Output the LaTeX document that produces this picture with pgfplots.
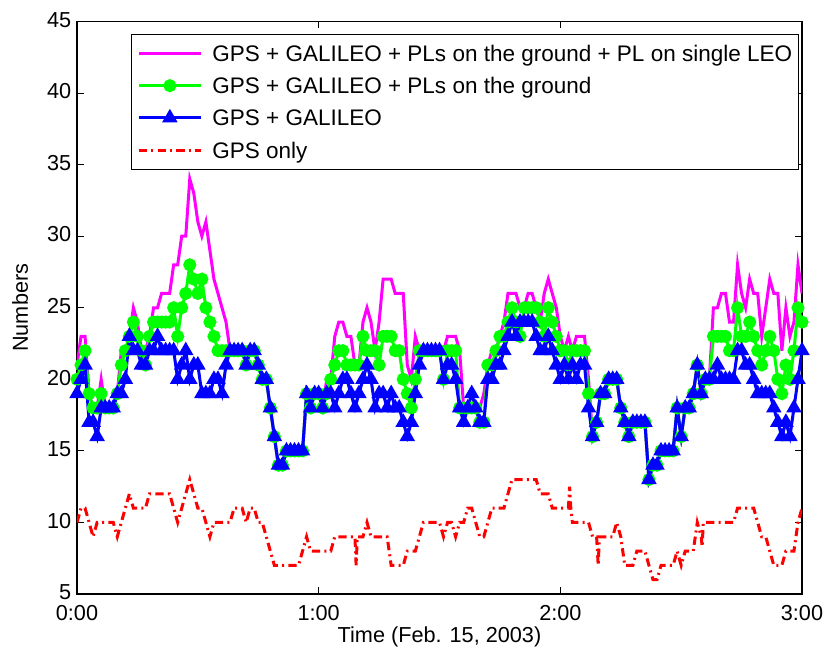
\documentclass[border=0pt]{standalone}
\usepackage{pgfplots}
\pgfplotsset{compat=1.18}
\usepackage{fontspec}
\setmainfont{Liberation Sans}
\definecolor{mmag}{rgb}{1,0,1}
\definecolor{mgreen}{rgb}{0,1,0}
\definecolor{mblue}{rgb}{0,0,1}
\definecolor{mred}{rgb}{1,0,0}
\begin{document}
\begin{tikzpicture}
\useasboundingbox (-46.2pt,-34.8pt) rectangle (451.2pt,356.4pt);
\begin{axis}[
  width=435pt, height=343.5pt, scale only axis,
  xmin=0, xmax=180, ymin=5, ymax=45,
  xtick={0,60,120,180}, xticklabels={0:00,1:00,2:00,3:00},
  xticklabel style={yshift=-3pt},
  yticklabel style={yshift=1pt},
  ytick={5,10,...,45},
  tick align=inside, major tick length=4.2pt,
  axis line style={line width=0.8pt},
  tick style={line width=0.6pt, black},
  font=\fontsize{13}{15.6}\selectfont,
  /pgf/number format/assume math mode=true,
  xlabel={Time (Feb. 15, 2003)}, ylabel={Numbers},
  xlabel style={at={(axis description cs:0.5,-0.075)}, anchor=center},
  ylabel style={at={(axis description cs:-0.0786,0.5)}, anchor=center},
  legend cell align=left,
  legend style={draw=black, line width=0.5pt, fill=white,
    at={(axis description cs:0.995,0.979)}, anchor=north east,
    font=\fontsize{13.5}{16}\selectfont,
    inner xsep=3.5pt, inner ysep=5.6pt, row sep=7.0pt,
    nodes={inner sep=0pt, text height=11pt, text depth=1.3pt},
    /tikz/every odd column/.append style={column sep=6pt}},
  legend image code/.code={\draw[mark repeat=2,mark phase=2,#1] plot coordinates {(0pt,0pt)(18.6pt,0pt)(37.2pt,0pt)};},
]
\addplot[color=mmag, line width=1.8pt] coordinates {
(0,21)(1,23)(2,23)(3,19)(4,18)(5,18)(6,20)(7,18)(8,18)(9,18)(10,19)(11,22)(12,22)(13,23)(14,25)(15,24)(16,22)(17,22)(18,23)(19,25)(20,25)(21,26)(22,26)(23,26)(24,28)(25,28)(26,30)(27,30)(28,34)(29,33)(30,31)(31,30)(32,31)(33,29)(34,27)(35,26)(36,25)(37,24)(38,22)(39,22)(40,22)(41,22)(42,21)(43,22)(44,22)(45,21)(46,20)(47,20)(48,18)(49,16)(50,14)(51,14)(52,15)(53,15)(54,15)(55,15)(56,15)(57,19)(58,18)(59,19)(60,19)(61,18)(62,20)(63,20)(64,23)(65,24)(66,24)(67,23)(68,23)(69,21)(70,21)(71,24)(72,25)(73,24)(74,22)(75,24)(76,27)(77,27)(78,27)(79,26)(80,26)(81,26)(82,21)(83,20)(84,23)(85,22)(86,22)(87,22)(88,22)(89,22)(90,22)(91,22)(92,23)(93,23)(94,23)(95,22)(96,18)(97,18)(98,18)(99,18)(100,18)(101,19)(102,21)(103,22)(104,22)(105,23)(106,24)(107,26)(108,26)(109,26)(110,25)(111,25)(112,26)(113,26)(114,25)(115,24)(116,26)(117,27)(118,26)(119,25)(120,23)(121,22)(122,23)(123,22)(124,23)(125,23)(126,23)(127,20)(128,16)(129,17)(130,19)(131,19)(132,20)(133,20)(134,20)(135,18)(136,17)(137,16)(138,17)(139,17)(140,17)(141,17)(142,13)(143,14)(144,14)(145,15)(146,15)(147,15)(148,15)(149,18)(150,16)(151,18)(152,18)(153,19)(154,21)(155,19)(156,20)(157,20)(158,25)(159,25)(160,26)(161,26)(162,24)(163,24)(164,28)(165,26)(166,25)(167,27)(168,26)(169,26)(170,23)(171,25)(172,27)(173,26)(174,26)(175,22)(176,25)(177,23)(178,24)(179,28)(180,26)};
\addlegendentry{GPS + GALILEO + PLs on the ground + PL on single LEO}
\addplot[color=mgreen, line width=1.8pt, mark=*, mark size=3pt, mark options={fill=mgreen, draw=mgreen}] coordinates {
(0,20)(1,21)(2,22)(3,19)(4,18)(5,18)(6,19)(7,18)(8,18)(9,18)(10,19)(11,21)(12,22)(13,23)(14,24)(15,23)(16,22)(17,21)(18,23)(19,24)(20,24)(21,24)(22,24)(23,24)(24,25)(25,23)(26,25)(27,26)(28,28)(29,27)(30,26)(31,27)(32,25)(33,24)(34,23)(35,22)(36,22)(37,22)(38,22)(39,22)(40,22)(41,22)(42,21)(43,22)(44,22)(45,21)(46,20)(47,20)(48,18)(49,16)(50,14)(51,14)(52,15)(53,15)(54,15)(55,15)(56,15)(57,19)(58,18)(59,19)(60,19)(61,18)(62,19)(63,20)(64,21)(65,22)(66,22)(67,21)(68,21)(69,21)(70,21)(71,23)(72,22)(73,22)(74,22)(75,21)(76,23)(77,23)(78,23)(79,22)(80,22)(81,20)(82,19)(83,18)(84,20)(85,22)(86,22)(87,22)(88,22)(89,22)(90,22)(91,20)(92,22)(93,22)(94,22)(95,18)(96,18)(97,18)(98,18)(99,18)(100,17)(101,17)(102,21)(103,21)(104,22)(105,23)(106,23)(107,24)(108,25)(109,24)(110,23)(111,25)(112,25)(113,25)(114,25)(115,24)(116,23)(117,25)(118,24)(119,23)(120,22)(121,22)(122,21)(123,22)(124,22)(125,22)(126,22)(127,19)(128,16)(129,17)(130,19)(131,19)(132,20)(133,20)(134,20)(135,18)(136,17)(137,16)(138,17)(139,17)(140,17)(141,17)(142,13)(143,14)(144,14)(145,15)(146,15)(147,15)(148,15)(149,18)(150,16)(151,18)(152,18)(153,19)(154,21)(155,19)(156,20)(157,20)(158,23)(159,23)(160,23)(161,23)(162,22)(163,22)(164,25)(165,23)(166,23)(167,24)(168,23)(169,22)(170,21)(171,22)(172,23)(173,22)(174,20)(175,19)(176,21)(177,20)(178,22)(179,25)(180,24)};
\addlegendentry{GPS + GALILEO + PLs on the ground}
\addplot[color=mblue, line width=1.8pt, mark=triangle*, mark size=3.6pt, mark options={fill=mblue, draw=mblue}] coordinates {
(0,19)(1,20)(2,21)(3,17)(4,17)(5,16)(6,18)(7,18)(8,18)(9,18)(10,19)(11,19)(12,20)(13,23)(14,22)(15,22)(16,21)(17,21)(18,22)(19,22)(20,23)(21,22)(22,22)(23,22)(24,22)(25,20)(26,21)(27,22)(28,20)(29,21)(30,21)(31,19)(32,19)(33,19)(34,20)(35,20)(36,19)(37,21)(38,22)(39,22)(40,22)(41,22)(42,21)(43,22)(44,22)(45,21)(46,20)(47,20)(48,18)(49,16)(50,14)(51,14)(52,15)(53,15)(54,15)(55,15)(56,15)(57,19)(58,18)(59,19)(60,19)(61,18)(62,19)(63,19)(64,18)(65,19)(66,20)(67,20)(68,19)(69,18)(70,19)(71,20)(72,21)(73,20)(74,18)(75,19)(76,19)(77,18)(78,19)(79,18)(80,18)(81,17)(82,16)(83,17)(84,19)(85,21)(86,22)(87,22)(88,22)(89,22)(90,22)(91,20)(92,21)(93,21)(94,20)(95,18)(96,17)(97,18)(98,19)(99,18)(100,17)(101,17)(102,20)(103,20)(104,21)(105,21)(106,22)(107,23)(108,24)(109,23)(110,24)(111,24)(112,24)(113,24)(114,23)(115,22)(116,22)(117,23)(118,22)(119,21)(120,20)(121,21)(122,20)(123,21)(124,20)(125,21)(126,21)(127,18)(128,16)(129,17)(130,19)(131,19)(132,20)(133,20)(134,20)(135,18)(136,17)(137,16)(138,17)(139,17)(140,17)(141,17)(142,13)(143,14)(144,14)(145,15)(146,15)(147,15)(148,15)(149,18)(150,16)(151,18)(152,18)(153,19)(154,21)(155,19)(156,20)(157,20)(158,20)(159,21)(160,20)(161,20)(162,20)(163,20)(164,22)(165,22)(166,21)(167,21)(168,20)(169,19)(170,19)(171,19)(172,19)(173,18)(174,17)(175,16)(176,17)(177,16)(178,18)(179,20)(180,22)};
\addlegendentry{GPS + GALILEO}
\addplot[color=mred, line width=1.8pt, dash pattern=on 5pt off 2.5pt on 1.2pt off 2.5pt] coordinates {
(0,10)(1,11)(2,11)(3,10)(4,9)(5,10)(6,10)(7,10)(8,10)(9,10)(10,9)(11,10)(12,11)(13,12)(14,11)(15,11)(16,11)(17,11)(18,12)(19,12)(20,12)(21,12)(22,12)(23,12)(24,11)(25,10)(26,11)(27,12)(28,13)(29,12)(30,11)(31,11)(32,10)(33,9)(34,10)(35,10)(36,10)(37,10)(38,10)(39,11)(40,11)(41,11)(42,10)(43,11)(44,11)(45,10)(46,10)(47,9)(48,8)(49,7)(50,7)(51,7)(52,7)(53,7)(54,7)(55,7)(56,8)(57,9)(58,8)(59,8)(60,8)(61,8)(62,8)(63,8)(64,9)(65,9)(66,9)(67,9)(68,9)(69,9)(69.3,7)(69.6,9)(70,9)(71,9)(72,10)(73,9)(74,9)(75,9)(76,9)(77,9)(78,7)(79,7)(80,7)(81,7)(82,8)(83,8)(84,8)(85,9)(86,10)(87,10)(88,10)(89,10)(90,10)(91,9)(92,10)(93,10)(94,9)(95,10)(96,10)(97,11)(98,11)(99,10)(100,9)(101,9)(102,10)(103,11)(104,11)(105,11)(106,11)(107,12)(108,13)(109,13)(110,13)(111,13)(112,13)(113,13)(114,13)(115,12)(116,12)(117,12)(118,11)(119,11)(120,11)(121,11)(122,11)(122.3,12.5)(122.6,11)(123,10)(124,10)(125,10)(126,10)(127,10)(128,9)(129,9)(129.4,7)(129.7,9)(130,9)(131,9)(132,9)(133,9)(134,10)(135,9)(136,7)(137,7)(138,7)(139,8)(140,8)(141,8)(142,7)(143,6)(144,6)(145,7)(146,7)(147,7)(148,7)(149,8)(150,7)(151,8)(152,8)(153,8)(154,10)(155,9)(155.2,8.3)(155.5,10)(156,10)(157,10)(158,10)(159,10)(160,10)(161,10)(162,10)(163,10)(164,11)(165,11)(166,11)(167,11)(168,11)(169,10)(170,9)(171,9)(172,8)(173,7)(174,7)(175,7)(176,8)(177,8)(178,8)(179,10)(180,11)};
\addlegendentry{GPS only}
\end{axis}
\end{tikzpicture}
\end{document}
